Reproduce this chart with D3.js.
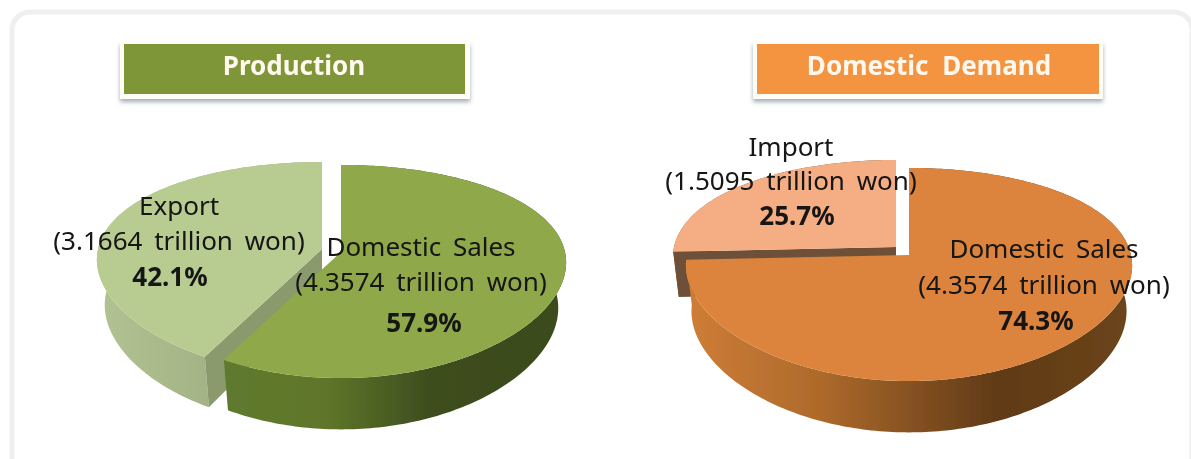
<!DOCTYPE html>
<html><head><meta charset="utf-8">
<script src="https://cdn.jsdelivr.net/npm/d3@7/dist/d3.min.js"></script>
<style>html,body{margin:0;background:#fff;overflow:hidden}svg{display:block}
text{font-family:"Noto Sans",sans-serif;fill:#141414}</style></head>
<body><svg id="c" width="1191" height="459"></svg>
<script>
// ---- data
const chartTitles = ["Production", "Domestic Demand"];
const productionCategories = ["Domestic Sales", "Export"];
const productionValues = [4.3574, 3.1664];
const demandCategories = ["Domestic Sales", "Import"];
const demandValues = [4.3574, 1.5095];
const productionAmounts = ["(4.3574 trillion won)", "(3.1664 trillion won)"];
const demandAmounts = ["(4.3574 trillion won)", "(1.5095 trillion won)"];

// ---- layout and style
const panels = [
 {title:chartTitles[0], cats:productionCategories, vals:productionValues, amounts:productionAmounts,
  box:[120,42,350,57], inner:[124,44,341,50], boxFill:"#7f9638", titleX:294, titleY:75,
  cx:341, cy:252, A:103, B:224, k:.183, kx:.1, depth:45, sx:.965, sy:1.05, shift:[-19,-3],
  top:["#8fa84a","#b8cc91"], cut:"#8a9a6d",
  rim:[[["0","#5f7a2e"],["0.3","#5e7629"],["0.6","#3d4d1e"],["1","#3a4b1e"]],[["0","#b3c292"],["1","#94a478"]]],
  labels:[{x:421,y:[256,291,332],pctX:424},{x:179,y:[215,250,286],pctX:170}]},
 {title:chartTitles[1], cats:demandCategories, vals:demandValues, amounts:demandAmounts,
  box:[753,42,350,57], inner:[757,44,342,50], boxFill:"#f59440", titleX:929, titleY:75,
  cx:909, cy:255, A:103, B:222, k:.183, kx:.1, depth:45, sx:.975, sy:1.05, shift:[-13,-8],
  top:["#dc843c","#f5ae84"], cut:"#6e5038",
  rim:[[["0","#cf7d37"],["0.3","#ae6a2b"],["0.7","#5f3a17"],["1","#6c451a"]],[["0","#8a5a30"],["1","#6e5038"]]],
  labels:[{x:1044,y:[258,294,330],pctX:1036},{x:791,y:[156,190,225],pctX:797}]}
];

const svg = d3.select("#c");
const defs = svg.append("defs");
const soft = defs.append("filter").attr("id","soft").attr("x","-5%").attr("y","-5%").attr("width","110%").attr("height","110%");
soft.append("feGaussianBlur").attr("stdDeviation",.5);
const shadow = defs.append("filter").attr("id","shadow").attr("x","-5%").attr("y","-20%").attr("width","110%").attr("height","150%");
shadow.append("feDropShadow").attr("dx",0).attr("dy",3).attr("stdDeviation",2).attr("flood-color","#5a6a80").attr("flood-opacity",.55);

// rounded frame
svg.append("rect").attr("x",12).attr("y",12).attr("width",1180).attr("height",470).attr("rx",18)
  .attr("fill","#fff").attr("stroke","#efefef").attr("stroke-width",5);

const pie = d3.pie().sort(null).value(d=>d);
const root = svg.append("g").attr("filter","url(#soft)");

panels.forEach((p,pi)=>{
  const g = root.append("g");
  g.append("rect").attr("x",p.box[0]).attr("y",p.box[1]).attr("width",p.box[2]).attr("height",p.box[3])
    .attr("fill","#fffef6").attr("filter","url(#shadow)");
  g.append("rect").attr("x",p.inner[0]).attr("y",p.inner[1]).attr("width",p.inner[2]).attr("height",p.inner[3]).attr("fill",p.boxFill);
  g.append("text").attr("x",p.titleX).attr("y",p.titleY).attr("text-anchor","middle")
    .attr("font-size",26).attr("font-weight",700).attr("word-spacing",7).style("fill","#fff8ee").text(p.title);

  const X = d3.scaleLinear().domain([-1,1]).range([p.cx-p.B,p.cx+p.B]);
  const Y = d3.scaleLinear().domain([-1,1]).range([p.cy-p.A,p.cy+p.A]);
  const project = (t)=>{const u=Math.sin(t),v=-Math.cos(t);return [X(u/(1-p.kx*v)),Y(v/(1-p.k*v))];};
  const down = q=>[p.cx+(q[0]-p.cx)*p.sx, p.cy+(q[1]-p.cy)*p.sy+p.depth];
  const line = d3.line();
  const arcs = pie(p.vals);

  const sweep = a=>d3.range(a.startAngle,a.endAngle,Math.PI/180).concat([a.endAngle]).map(project);

  // paint from back to front: exploded slice first, then the main slice
  [1,0].forEach(i=>{
    const a = arcs[i], pts = sweep(a), s = i===1?p.shift:[0,0];
    const sg = g.append("g").attr("transform",`translate(${s[0]},${s[1]})`);
    const gid = `rim${pi}${i}`;
    const lg = defs.append("linearGradient").attr("id",gid);
    p.rim[i].forEach(st=>lg.append("stop").attr("offset",st[0]).attr("stop-color",st[1]));
    sg.append("path").attr("d",line(pts.concat(pts.map(down).reverse()))+"Z").attr("fill",`url(#${gid})`);
    const c=[p.cx,p.cy];
    if(i===1){
      const e=project(a.startAngle);
      sg.append("path").attr("d",line([c,e,down(e),down(c)])+"Z").attr("fill",p.cut);
    }
    sg.append("path").attr("d",line([c].concat(pts))+"Z").attr("fill",p.top[i]);
  });

  // labels
  p.labels.forEach((l,i)=>{
    const pct=d3.format(".1%")(p.vals[i]/d3.sum(p.vals));
    g.append("text").attr("x",l.x).attr("y",l.y[0]).attr("text-anchor","middle").attr("font-size",26).attr("word-spacing",5).text(p.cats[i]);
    g.append("text").attr("x",l.x).attr("y",l.y[1]).attr("text-anchor","middle").attr("font-size",26).attr("word-spacing",5).text(p.amounts[i]);
    g.append("text").attr("x",l.pctX).attr("y",l.y[2]).attr("text-anchor","middle").attr("font-size",26).attr("font-weight",700).text(pct);
  });
});
</script></body></html>
